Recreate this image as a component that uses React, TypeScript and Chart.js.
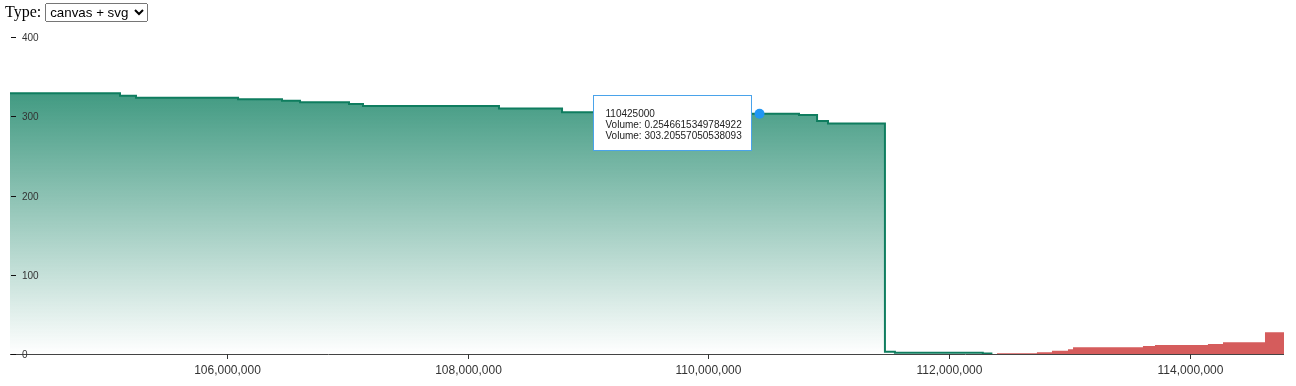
import React, { useEffect, useRef } from 'react';
import { Chart, registerables } from 'chart.js';

Chart.register(...registerables);

// ---- data ----
const xMin = 104197000;
const xMax = 114783000;
const yMin = 0;
const yMax = 400;
const xTickValues = [106000000, 108000000, 110000000, 112000000, 114000000];
const yTickValues = [0, 100, 200, 300, 400];

// bids: price where each level starts, cumulative volume of that level
const bidPrices = [
  104197000, 105111000, 105244000, 106092000, 106457000, 106607000, 107014000,
  107130000, 108260000, 108784000, 109700000, 110753000, 110903000, 110994000,
  111467000, 111550000, 112280000, 112360000,
];
const bidVolumes = [
  329, 326, 323.4, 321.4, 319.6, 317.6, 315.5,
  313, 309.8, 305, 303.2, 301.6, 294, 291,
  2.9, 1.6, 0.6, 0.6,
];

// asks
const askPrices = [
  112398000, 112730000, 112855000, 112988000, 113030000, 113611000, 113711000,
  114151000, 114276000, 114625000, 114783000,
];
const askVolumes = [0.9, 2.1, 4.0, 5.9, 8.5, 10.1, 11.4, 12.6, 14.8, 27.4, 27.4];

// hovered point shown in the tooltip
const hoverPrice = 110425000;
const hoverVolume = 303.20557050538093;
const tooltipLines = ['110425000', 'Volume: 0.2546615349784922', 'Volume: 303.20557050538093'];

const typeOptions = ['canvas + svg', 'canvas', 'svg'];

const FONT = "'Liberation Sans', Arial, sans-serif";

const axesPlugin = {
  id: 'customAxes',
  afterDatasetsDraw(chart: any) {
    const { ctx, chartArea, scales } = chart;
    const xs = scales.x;
    const ys = scales.y;
    ctx.save();
    // x axis line
    ctx.strokeStyle = '#444';
    ctx.lineWidth = 1;
    ctx.beginPath();
    ctx.moveTo(chartArea.left, Math.round(chartArea.bottom) + 0.5);
    ctx.lineTo(chartArea.right, Math.round(chartArea.bottom) + 0.5);
    ctx.stroke();
    // x ticks + labels
    ctx.fillStyle = '#333';
    ctx.font = `12px ${FONT}`;
    ctx.textAlign = 'center';
    ctx.textBaseline = 'alphabetic';
    xTickValues.forEach((v) => {
      const px = Math.round(xs.getPixelForValue(v)) + 0.5;
      ctx.strokeStyle = '#333';
      ctx.beginPath();
      ctx.moveTo(px, chartArea.bottom);
      ctx.lineTo(px, chartArea.bottom + 5);
      ctx.stroke();
      ctx.fillText(v.toLocaleString('en-US'), px, chartArea.bottom + 20);
    });
    // y ticks + labels (inside the plot)
    ctx.font = `10px ${FONT}`;
    ctx.textAlign = 'left';
    yTickValues.forEach((v) => {
      const py = Math.round(ys.getPixelForValue(v)) + 0.5;
      ctx.strokeStyle = '#111';
      ctx.beginPath();
      ctx.moveTo(chartArea.left + 1, py);
      ctx.lineTo(chartArea.left + 6, py);
      ctx.stroke();
      ctx.fillStyle = '#333';
      ctx.fillText(String(v), chartArea.left + 12, py + 3.5);
    });
    ctx.restore();
  },
  afterDraw(chart: any) {
    const { ctx, scales } = chart;
    const px = scales.x.getPixelForValue(hoverPrice);
    const py = scales.y.getPixelForValue(hoverVolume);
    ctx.save();
    // point
    ctx.fillStyle = '#2196f3';
    ctx.beginPath();
    ctx.arc(px, py, 5, 0, Math.PI * 2);
    ctx.fill();
    // box
    ctx.font = `10px ${FONT}`;
    const w = Math.round(Math.max(...tooltipLines.map((l) => ctx.measureText(l).width)) + 22);
    const h = 55;
    const bx = Math.round(px - 8.5 - w) + 0.5;
    const by = Math.round(py - 19) + 0.5;
    ctx.fillStyle = '#fff';
    ctx.fillRect(bx, by, w, h);
    ctx.strokeStyle = '#4aa3ea';
    ctx.lineWidth = 1;
    ctx.strokeRect(bx, by, w, h);
    ctx.fillStyle = '#222';
    ctx.textAlign = 'left';
    ctx.textBaseline = 'middle';
    tooltipLines.forEach((l, i) => {
      ctx.fillText(l, bx + 12, by + 18.5 + i * 11);
    });
    ctx.restore();
  },
};

export default function App() {
  const canvasRef = useRef<HTMLCanvasElement | null>(null);

  useEffect(() => {
    if (!canvasRef.current) return;
    const chart = new Chart(canvasRef.current, {
      type: 'line',
      data: {
        datasets: [
          {
            label: 'Bids',
            data: bidPrices.map((p, i) => ({ x: p, y: bidVolumes[i] })),
            stepped: true,
            borderColor: '#0f7d5f',
            borderWidth: 2,
            pointRadius: 0,
            fill: 'origin',
            backgroundColor: (c: any) => {
              const ca = c.chart.chartArea;
              if (!ca) return 'rgba(0,118,84,0.5)';
              const g = c.chart.ctx.createLinearGradient(0, ca.top, 0, ca.bottom);
              g.addColorStop(0, 'rgba(5,122,90,0.92)');
              g.addColorStop(1, 'rgba(5,122,90,0)');
              return g;
            },
          },
          {
            label: 'Asks',
            data: askPrices.map((p, i) => ({ x: p, y: askVolumes[i] })),
            stepped: true,
            borderColor: 'rgba(0,0,0,0)',
            borderWidth: 1,
            pointRadius: 0,
            fill: 'origin',
            backgroundColor: 'rgb(213,92,92)',
          },
        ],
      },
      options: {
        animation: false,
        responsive: false,
        devicePixelRatio: 1,
        events: [],
        layout: { padding: { left: 10, right: 12, top: 37, bottom: 32 } },
        scales: {
          x: { type: 'linear', min: xMin, max: xMax, display: false },
          y: { type: 'linear', min: yMin, max: yMax, display: false },
        },
        plugins: {
          legend: { display: false },
          tooltip: { enabled: false },
        },
      },
      plugins: [axesPlugin],
    });
    return () => chart.destroy();
  }, []);

  return (
    <div style={{ position: 'absolute', left: 0, top: 0, width: 1296, height: 386 }}>
      <canvas
        ref={canvasRef}
        width={1296}
        height={386}
        style={{ position: 'absolute', left: 0, top: 0, width: 1296, height: 386 }}
      />
      <div
        style={{
          position: 'absolute',
          left: 5,
          top: 3,
          fontFamily: "'Liberation Serif', 'Times New Roman', serif",
          fontSize: 16,
          zIndex: 1,
        }}
      >
        Type:{' '}
        <select defaultValue={typeOptions[0]} style={{ width: 103 }}>
          {typeOptions.map((o) => (
            <option key={o} value={o}>
              {o}
            </option>
          ))}
        </select>
      </div>
    </div>
  );
}
